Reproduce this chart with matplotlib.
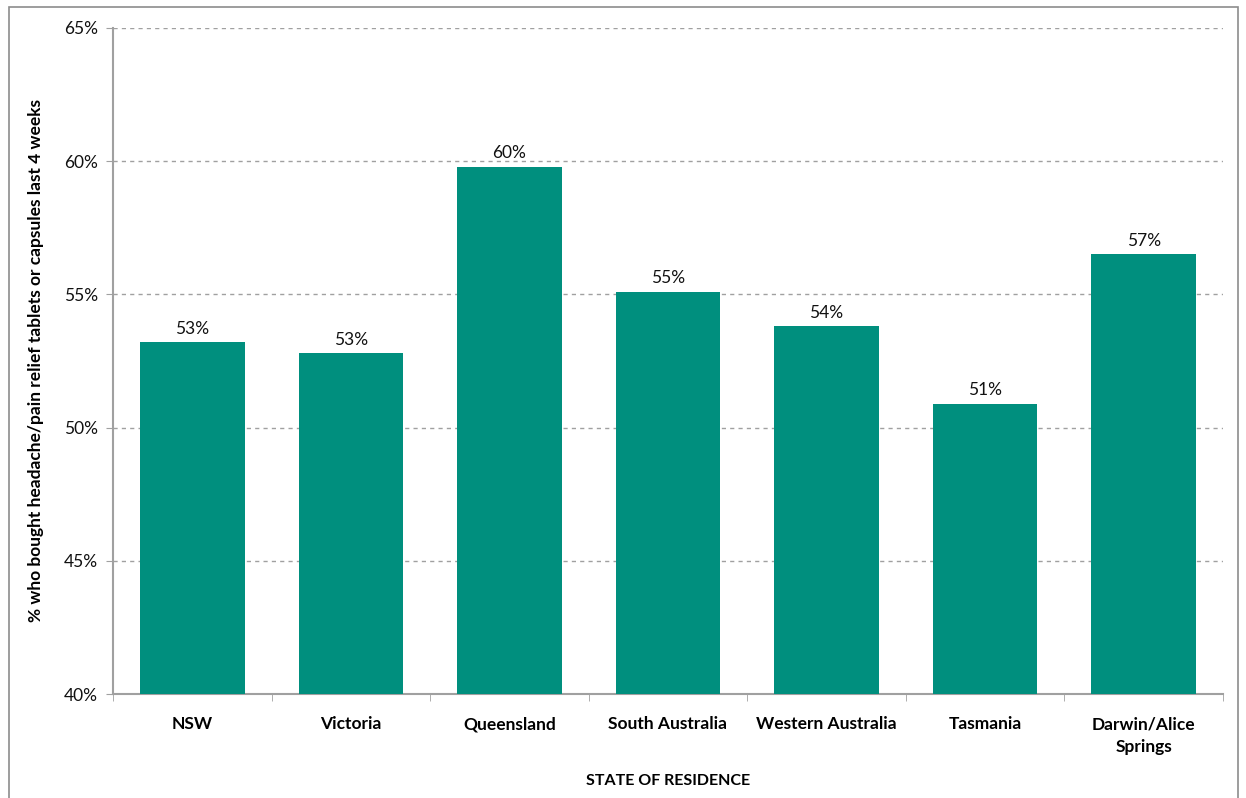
import matplotlib.pyplot as plt
import numpy as np
from matplotlib.patches import Rectangle

# state of residence vs % who bought headache/pain relief tablets
states = ['NSW', 'Victoria', 'Queensland', 'South Australia',
          'Western Australia', 'Tasmania', 'Darwin/Alice\nSprings']
pct = [53.2, 52.8, 59.8, 55.1, 53.8, 50.9, 56.5]
yticks = [40, 45, 50, 55, 60, 65]

plt.rcParams['font.family'] = ['Lato', 'DejaVu Sans']

fig = plt.figure(figsize=(12.46, 7.98), dpi=100)
ax = fig.add_axes([113 / 1246, 1 - 694 / 798, (1223 - 113) / 1246, (694 - 28) / 798])

# outer chart frame
fig.patches.append(Rectangle((9 / 1246, -0.05), (1238 - 9) / 1246, 1.05 - 7 / 798,
                             transform=fig.transFigure, fill=False,
                             edgecolor='#8c8c8c', linewidth=1.2))

x = np.arange(len(states))
ax.bar(x, pct, width=0.66, color='#008F7E', zorder=3)
for xi, v in zip(x, pct):
    # excel style rounding (half up)
    ax.text(xi, v + 0.2, f'{int(v + 0.5)}%', ha='center', va='bottom',
            fontsize=12.5, color='#111111')

ax.set_ylim(40, 65)
ax.set_xlim(-0.5, len(states) - 0.5)
ax.set_yticks(yticks)
ax.set_yticklabels([f'{t}%' for t in yticks], fontsize=12.5, color='#111111')
ax.yaxis.grid(True, linestyle=(0, (3, 3)), color='#a0a0a0', linewidth=1, zorder=0)

ax.set_xticks(x)
ax.set_xticklabels(states, fontsize=12.5, fontweight='bold', linespacing=1.5)
ax.set_xticks(np.arange(-0.5, len(states)), minor=True)
ax.tick_params(axis='x', which='major', length=0, pad=16)
ax.tick_params(axis='x', which='minor', length=5, color='#a0a0a0')
ax.tick_params(axis='y', length=5, color='#a0a0a0', pad=6)

for s in ['top', 'right']:
    ax.spines[s].set_visible(False)
for s in ['left', 'bottom']:
    ax.spines[s].set_color('#a0a0a0')
    ax.spines[s].set_linewidth(1.5)

ax.set_ylabel('% who bought headache/pain relief tablets or capsules last 4 weeks',
              fontsize=12.5, fontweight='bold', labelpad=14)
ax.set_xlabel('STATE OF RESIDENCE', fontsize=11.5, fontweight='bold', labelpad=14)

fig.savefig('out.png', dpi=100)
